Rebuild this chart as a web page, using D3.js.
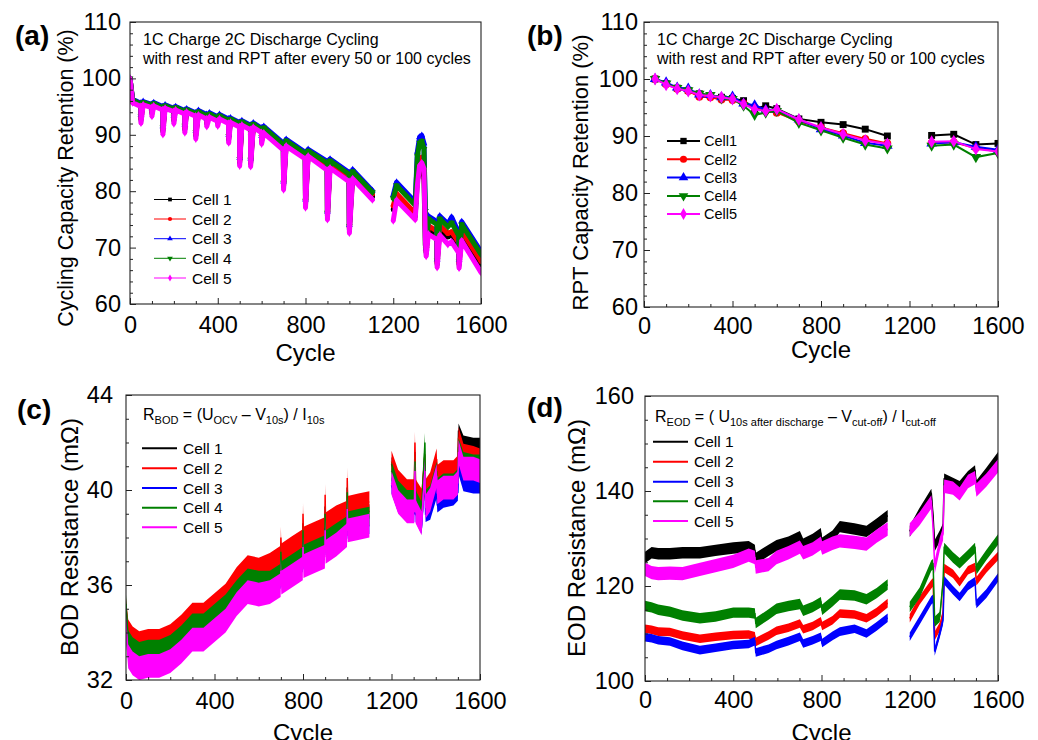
<!DOCTYPE html>
<html><head><meta charset="utf-8">
<script src="https://cdn.jsdelivr.net/npm/d3@7"></script>
<style>
body{margin:0;background:#fff;}
svg{display:block;font-family:"Liberation Sans",Arial,Helvetica,sans-serif;}
</style></head><body>
<svg id="chart" width="1038" height="740"></svg>
<script>
// ---------------- DATA ----------------
const cellNames = ["Cell 1", "Cell 2", "Cell 3", "Cell 4", "Cell 5"];
const cellNamesB = ["Cell1", "Cell2", "Cell3", "Cell4", "Cell5"];
const cellColors = ["#000000", "#ff0000", "#0000ff", "#008000", "#ff00ff"];
const xTickLabels = [0, 400, 800, 1200, 1600];

// (a) cycling capacity retention (%), knots (null = no data)
const capCycles = [0, 12,
  49, 50, 60, 99, 100, 108, 149, 150, 160, 199, 200, 208, 249, 250, 258, 299, 300, 312,
  349, 350, 362, 399, 400, 408, 449, 450, 458, 499, 500, 510, 549, 550, 562, 599, 600, 610,
  699, 700, 712, 799, 800, 812, 899, 900, 912, 999, 1000, 1015, 1105,
  1150,
  1200, 1215, 1300, 1310, 1320, 1330, 1340, 1346, 1350, 1360,
  1399, 1400, 1412, 1449, 1466, 1499, 1500, 1512, 1600];
const capCell1 = [100.0, 95.95,
  95.25, 92.7, 95.55, 95.05, 93.9, 95.35, 94.65, 90.7, 94.95, 94.35, 92.6, 94.65, 93.95, 91.0, 94.25, 93.55, 89.9, 93.8,
  93.1, 92.1, 93.4, 92.7, 92.2, 93.1, 92.3, 89.2, 92.5, 91.7, 85.1, 92.0, 91.2, 85.0, 91.6, 90.7, 89.0, 90.7,
  87.7, 80.9, 88.4, 86.1, 77.7, 86.6, 84.3, 75.6, 84.7, 82.3, 73.2, 82.8, 79.1,
  null,
  76.8, 79.1, 75.6, 82.0, 83.5, 84.0, 82.5, 70.5, 69.1, 73.3,
  72.3, 67.1, 73.3, 71.9, 72.3, 70.3, 67.0, 72.3, 67.0];
const capCell2 = [100.0, 96.0,
  95.3, 93.1, 95.6, 95.1, 94.3, 95.4, 94.7, 91.1, 95.0, 94.4, 93.0, 94.7, 94.0, 91.4, 94.3, 93.6, 90.3, 93.9,
  93.2, 92.5, 93.5, 92.8, 92.6, 93.2, 92.4, 89.6, 92.6, 91.8, 85.5, 92.1, 91.3, 85.4, 91.7, 90.8, 89.4, 91.0,
  88.0, 81.3, 88.7, 86.4, 78.1, 86.9, 84.7, 76.0, 85.1, 82.7, 73.6, 83.2, 79.5,
  null,
  77.4, 79.6, 76.1, 83.5, 85.5, 86.0, 85.0, 74.0, 69.5, 73.9,
  72.9, 67.5, 73.9, 72.5, 72.8, 70.9, 67.4, 72.9, 67.6];
const capCell3 = [100.0, 96.3,
  95.6, 93.5, 95.9, 95.4, 94.7, 95.7, 95.0, 91.5, 95.3, 94.7, 93.4, 95.0, 94.3, 91.8, 94.6, 93.9, 90.7, 94.3,
  93.6, 92.9, 93.9, 93.2, 92.9, 93.6, 92.8, 90.0, 93.0, 92.2, 85.9, 92.5, 91.7, 85.8, 92.1, 91.2, 89.8, 91.5,
  88.5, 81.7, 89.2, 86.9, 78.5, 87.4, 85.3, 76.4, 85.7, 83.3, 74.0, 83.8, 80.1,
  null,
  79.3, 81.6, 78.1, 87.0, 89.6, 89.9, 88.5, 77.0, 69.9, 75.6,
  74.6, 67.9, 75.6, 74.2, 75.4, 72.6, 67.8, 74.6, 69.3];
const capCell4 = [100.0, 96.15,
  95.45, 93.3, 95.75, 95.25, 94.5, 95.55, 94.85, 91.3, 95.15, 94.55, 93.2, 94.85, 94.15, 91.6, 94.45, 93.75, 90.5, 94.1,
  93.4, 92.7, 93.7, 93.0, 92.8, 93.4, 92.6, 89.8, 92.8, 92.0, 85.7, 92.3, 91.5, 85.6, 91.9, 91.0, 89.6, 91.25,
  88.25, 81.5, 88.95, 86.65, 78.3, 87.15, 85.0, 76.2, 85.4, 83.0, 73.8, 83.5, 79.8,
  null,
  78.7, 81.0, 77.5, 86.2, 88.6, 88.9, 87.5, 76.5, 69.7, 75.1,
  74.1, 67.7, 75.1, 73.7, 74.4, 72.1, 67.6, 74.1, 68.8];
const capCell5 = [100.0, 95.7,
  95.0, 92.1, 95.3, 94.8, 93.3, 95.1, 94.4, 90.1, 94.7, 94.1, 92.0, 94.4, 93.7, 90.4, 94.0, 93.3, 89.3, 93.5,
  92.8, 91.5, 93.1, 92.4, 91.6, 92.8, 92.0, 88.6, 92.2, 91.4, 84.5, 91.7, 90.9, 84.4, 91.3, 90.4, 88.4, 90.3,
  87.3, 80.3, 88.0, 85.7, 77.1, 86.2, 83.7, 75.0, 84.1, 81.7, 72.6, 82.2, 78.5,
  null,
  74.8, 78.4, 75.0, 81.0, 84.5, 85.0, 84.0, 72.0, 68.5, 72.4,
  71.4, 66.5, 72.2, 70.6, 71.0, 69.0, 66.4, 71.2, 65.6];

// (b) RPT capacity retention (%)
const rptCycles = [50, 100, 150, 200, 250, 300, 350, 400, 450, 500, 550, 600, 700, 800, 900, 1000, 1100, 1200, 1300, 1400, 1500, 1600];
const rptCell1 = [100, 99.2, 98.4, 98.0, 97.4, 97.1, 96.8, 96.6, 96.2, 94.8, 95.3, 94.8, 93.0, 92.4, 92.0, 91.2, 90.0, null, 90.1, 90.3, 88.5, 88.7];
const rptCell2 = [100, 99.1, 98.3, 97.9, 96.9, 96.8, 96.4, 96.3, 95.7, 95.0, 94.4, 94.1, 92.6, 91.5, 90.5, 89.5, 88.7, null, 88.8, 88.9, 87.9, 87.3];
const rptCell3 = [100, 99.4, 98.5, 98.3, 97.3, 97.2, 96.8, 96.9, 95.7, 95.4, 94.6, 94.6, 92.9, 91.2, 90.1, 88.8, 88.3, null, 88.7, 88.9, 88.1, 87.6];
const rptCell4 = [100, 99.2, 98.4, 98.0, 97.4, 97.2, 96.6, 96.5, 95.3, 93.7, 94.1, 94.4, 92.3, 91.0, 89.7, 88.5, 87.8, null, 88.3, 88.5, 86.3, 87.0];
const rptCell5 = [100, 99.0, 98.3, 97.9, 97.2, 97.0, 96.8, 96.5, 95.6, 94.7, 94.4, 94.7, 92.9, 91.5, 90.3, 89.2, 88.6, null, 89.0, 89.1, 87.7, 87.3];

// (c) BOD resistance (mOhm): band centre per knot and band half-width (noise) per cell
const bodCycles = [0, 10, 30, 60, 100, 150, 200, 250, 300, 350, 400, 450, 500, 550, 600, 650,
  699, 700, 702, 750, 799, 800, 802, 850, 899, 900, 902, 950, 999, 1000, 1002, 1050, 1100,
  1150,
  1200, 1230, 1270, 1303, 1306, 1309, 1336, 1351, 1354, 1375, 1404, 1407, 1435, 1480, 1500, 1503, 1525, 1570, 1600];
const bodCell1 = [34.8, 33.7, 33.4, 33.2, 33.3, 33.3, 33.5, 33.9, 34.4, 34.4, 34.8, 35.2, 35.9, 36.4, 36.3, 36.5,
  36.8, 37.7, 36.9, 37.2, 37.5, 38.6, 37.6, 37.8, 38.0, 39.3, 38.2, 38.5, 38.7, 40.1, 38.9, 39.0, 39.1,
  null,
  41.1, 40.3, 39.9, 39.9, 41.6, 39.9, 39.4, 41.2, 39.8, 40.1, 41.1, 40.4, 40.6, 40.6, 40.9, 42.5, 42.0, 41.9, 41.9];
const bodCell2 = [35.0, 34.1, 33.8, 33.6, 33.7, 33.7, 33.9, 34.3, 34.8, 34.8, 35.2, 35.6, 36.3, 36.8, 36.7, 36.9,
  37.2, 38.0, 37.3, 37.6, 37.9, 39.0, 38.0, 38.2, 38.4, 39.8, 38.6, 38.9, 39.1, 40.5, 39.3, 39.4, 39.5,
  null,
  41.2, 40.4, 40.0, 40.0, 42.0, 40.0, 39.6, 41.5, 40.0, 40.3, 41.3, 40.6, 40.8, 40.8, 41.0, 42.2, 41.5, 41.4, 41.3];
const bodCell3 = [34.3, 33.1, 32.8, 32.6, 32.7, 32.7, 32.9, 33.3, 33.8, 33.8, 34.2, 34.6, 35.3, 35.8, 35.7, 35.9,
  36.2, 36.9, 36.3, 36.6, 36.9, 37.6, 37.0, 37.2, 37.4, 38.4, 37.6, 37.9, 38.1, 39.2, 38.3, 38.4, 38.5,
  null,
  40.2, 39.4, 39.0, 39.0, 40.6, 39.0, 38.5, 40.5, 39.0, 39.1, 40.0, 39.4, 39.6, 39.7, 39.9, 41.0, 40.3, 40.2, 40.2];
const bodCell4 = [35.2, 33.7, 33.4, 33.2, 33.3, 33.3, 33.5, 33.9, 34.4, 34.4, 34.8, 35.2, 35.8, 36.3, 36.2, 36.2,
  36.5, 37.4, 36.6, 36.9, 37.2, 38.3, 37.3, 37.5, 37.7, 39.0, 37.9, 38.2, 38.5, 39.9, 38.7, 38.8, 38.9,
  null,
  40.8, 40.0, 39.6, 39.6, 41.2, 39.6, 39.1, 42.0, 39.6, 39.8, 40.8, 40.1, 40.3, 40.3, 40.5, 41.8, 41.2, 41.1, 41.1];
const bodCell5 = [34.2, 33.0, 32.7, 32.5, 32.6, 32.6, 32.8, 33.2, 33.7, 33.7, 34.1, 34.5, 35.2, 35.7, 35.6, 35.7,
  36.0, 36.6, 36.1, 36.4, 36.7, 37.6, 36.8, 37.0, 37.2, 38.3, 37.4, 37.7, 38.1, 39.2, 38.3, 38.4, 38.5,
  null,
  40.3, 39.5, 39.1, 39.1, 40.8, 39.1, 38.6, 40.8, 39.3, 39.6, 40.6, 39.9, 40.1, 40.1, 40.3, 41.6, 40.9, 40.9, 40.8];
const bodNoise = [0.3, 0.45, 0.35, 0.4, 0.5];

// (d) EOD resistance (mOhm)
const eodCycles = [0, 30, 60, 113, 170, 249, 320, 400, 470, 498, 502, 560, 596, 650, 702, 717, 760, 797, 803,
  850, 883, 950, 1004, 1050, 1100,
  1150,
  1200, 1245, 1298, 1306, 1313, 1336, 1351, 1356, 1396, 1426, 1464, 1496, 1502, 1547, 1600];
const eodCell1 = [126.0, 127.0, 126.8, 126.8, 127.0, 127.0, 127.5, 128.0, 128.3, 127.5, 125.8, 127.5, 128.5, 129.2, 130.4, 128.8, 129.8, 131.0, 129.0,
  130.5, 132.5, 132.0, 131.5, 133.0, 134.8,
  null,
  131.5, 135.3, 139.3, 134.5, 128.5, 130.5, 132.0, 142.5, 141.6, 140.9, 143.0, 144.2, 141.0, 143.7, 147.0];
const eodCell2 = [111.0, 110.8, 110.4, 110.3, 109.6, 108.9, 109.3, 109.7, 109.8, 109.4, 108.2, 109.6, 110.6, 111.2, 112.1, 110.9, 111.6, 112.6, 111.6,
  112.8, 114.2, 114.0, 113.2, 114.5, 116.4,
  null,
  113.2, 117.0, 120.4, 120.8, 109.5, 111.4, 114.2, 123.8, 122.6, 120.8, 123.3, 124.0, 121.0, 123.7, 126.3];
const eodCell3 = [109.2, 109.0, 108.6, 108.3, 107.4, 106.5, 107.0, 107.6, 107.8, 108.4, 106.0, 106.8, 107.6, 108.4, 109.3, 107.9, 108.6, 109.3, 108.0,
  109.5, 110.4, 111.0, 110.0, 111.5, 113.3,
  null,
  109.3, 112.8, 117.0, 117.3, 106.2, 110.0, 112.8, 121.2, 119.1, 117.7, 120.0, 121.0, 116.2, 118.4, 121.8];
const eodCell4 = [115.8, 115.5, 115.0, 114.6, 113.8, 113.2, 113.6, 114.4, 114.4, 114.2, 112.2, 114.0, 115.2, 115.8, 116.2, 114.8, 115.6, 116.6, 115.0,
  116.8, 118.2, 118.0, 117.2, 118.5, 120.3,
  null,
  115.6, 118.6, 124.3, 124.6, 112.5, 113.5, 121.0, 128.0, 126.0, 124.8, 126.5, 128.0, 123.5, 126.5, 129.8];
const eodCell5 = [123.5, 122.8, 122.6, 122.7, 122.6, 123.5, 124.3, 125.2, 126.5, 126.0, 124.0, 124.5, 126.0, 127.0, 128.2, 127.0, 127.8, 129.0, 128.0,
  129.0, 129.5, 129.2, 128.8, 130.5, 132.0,
  null,
  131.8, 134.2, 137.7, 132.0, 124.0, 128.8, 131.0, 141.0, 140.6, 139.4, 142.0, 142.8, 140.2, 142.3, 145.3];
const eodNoise = [1.2, 0.9, 0.9, 1.1, 1.4];

// ---------------- DRAWING ----------------
const svg = d3.select("#chart");
const FONT = '"Liberation Sans", Arial, Helvetica, sans-serif';

function makePanel(cfg) {
  const x = d3.scaleLinear().domain([0, 1600]).range([cfg.l, cfg.r]);
  const y = d3.scaleLinear().domain(cfg.yd).range([cfg.b, cfg.t]);
  const g = svg.append("g");
  const clipId = "clip-" + cfg.name;
  svg.append("defs").append("clipPath").attr("id", clipId)
    .append("rect").attr("x", cfg.l).attr("y", cfg.t).attr("width", cfg.r - cfg.l).attr("height", cfg.b - cfg.t);
  const plot = g.append("g").attr("clip-path", `url(#${clipId})`);

  const xMinor = d3.range(0, 1601, cfg.xMinor).filter(v => v % 400 !== 0);
  const yMinor = d3.range(cfg.yd[0], cfg.yd[1] + 1e-9, cfg.yMinor).filter(v => !cfg.yMajor.includes(v));
  const axG = g.append("g").attr("class", "axes");
  axG.append("g").attr("transform", `translate(0,${cfg.b})`)
    .call(d3.axisBottom(x).tickValues(xMinor).tickSize(-3).tickFormat(""))
    .call(s => s.select(".domain").remove());
  axG.append("g").attr("transform", `translate(${cfg.l},0)`)
    .call(d3.axisLeft(y).tickValues(yMinor).tickSize(-3).tickFormat(""))
    .call(s => s.select(".domain").remove());
  axG.append("g").attr("transform", `translate(0,${cfg.b})`)
    .call(d3.axisBottom(x).tickValues(xTickLabels).tickSize(-6).tickPadding(cfg.xPad).tickFormat(d3.format("d")))
    .call(s => s.select(".domain").remove())
    .call(s => s.selectAll("text").attr("font-size", 23.5).attr("font-family", FONT).attr("fill", "#000"));
  axG.append("g").attr("transform", `translate(${cfg.l},0)`)
    .call(d3.axisLeft(y).tickValues(cfg.yMajor).tickSize(-6).tickPadding(cfg.yPad).tickFormat(d3.format("d")))
    .call(s => s.select(".domain").remove())
    .call(s => s.selectAll("text").attr("font-size", 23.5).attr("font-family", FONT).attr("fill", "#000"));
  axG.selectAll(".tick line").attr("stroke", "#222").attr("stroke-width", 1);
  g.append("rect").attr("x", cfg.l).attr("y", cfg.t).attr("width", cfg.r - cfg.l).attr("height", cfg.b - cfg.t)
    .attr("fill", "none").attr("stroke", "#222").attr("stroke-width", 1.1);

  g.append("text").attr("x", (cfg.l + cfg.r) / 2).attr("y", cfg.xTitleY).attr("text-anchor", "middle")
    .attr("font-size", 24).text("Cycle");
  g.append("text").attr("transform", `translate(${cfg.yTitleX},${cfg.yTitleCY}) rotate(-90)`)
    .attr("text-anchor", "middle").attr("font-size", cfg.yTitleSize).text(cfg.yTitle);
  g.append("text").attr("x", cfg.labelX).attr("y", cfg.labelY).attr("font-size", 28).attr("font-weight", "bold")
    .text(cfg.label);
  return {g, x, y, plot};
}

function symbolFor(i, size) {
  const types = [d3.symbolSquare, d3.symbolCircle, d3.symbolTriangle, d3.symbolTriangle, d3.symbolDiamond];
  return d3.symbol().type(types[i]).size(size)();
}
function drawMarker(g, i, cx, cy, size) {
  g.append("path").attr("d", symbolFor(i, size))
    .attr("transform", `translate(${cx},${cy})` + (i === 3 ? " rotate(180)" : ""))
    .attr("fill", cellColors[i]).attr("stroke", "none");
}
function zip(cycles, vals) { return cycles.map((c, k) => ({c, v: vals[k]})); }

// ---------- Panel (a) ----------
const A = makePanel({name: "a", l: 130, r: 481, t: 22, b: 304, yd: [60, 110], yMajor: [60, 70, 80, 90, 100, 110],
  yMinor: 2, xMinor: 100, xPad: 12.5, yPad: 9, xTitleY: 361, yTitleX: 73, yTitleCY: 178, yTitleSize: 21.5,
  yTitle: "Cycling Capacity Retention (%)", label: "(a)", labelX: 15, labelY: 45});
const capSeries = [capCell1, capCell2, capCell3, capCell4, capCell5];
const lineA = d3.line().defined(d => d.v != null).x(d => A.x(d.c)).y(d => A.y(d.v));
capSeries.forEach((vals, i) => {
  const data = zip(capCycles, vals);
  A.plot.append("path").datum(data).attr("d", lineA).attr("fill", "none")
    .attr("stroke", cellColors[i]).attr("stroke-width", 5).attr("stroke-linejoin", "round").attr("stroke-linecap", "round");
  data.filter(d => d.v != null).forEach(d => drawMarker(A.plot, i, A.x(d.c), A.y(d.v), 20));
});
A.g.append("text").attr("x", 143).attr("y", 45).attr("font-size", 16).text("1C Charge 2C Discharge Cycling");
A.g.append("text").attr("x", 143).attr("y", 64).attr("font-size", 16).text("with rest and RPT after every 50 or 100 cycles");
const legA = [199.5, 219, 238.7, 258.3, 278];
cellNames.forEach((n, i) => {
  A.g.append("line").attr("x1", 154).attr("x2", 186).attr("y1", legA[i]).attr("y2", legA[i])
    .attr("stroke", cellColors[i]).attr("stroke-width", 1);
  drawMarker(A.g, i, 170, legA[i], 14);
  A.g.append("text").attr("x", 192).attr("y", legA[i]).attr("dy", "0.36em").attr("font-size", 15.5).text(n);
});

// ---------- Panel (b) ----------
const B = makePanel({name: "b", l: 644, r: 998, t: 22, b: 307, yd: [60, 110], yMajor: [60, 70, 80, 90, 100, 110],
  yMinor: 2, xMinor: 100, xPad: 10.5, yPad: 6, xTitleY: 358, yTitleX: 588, yTitleCY: 172.5, yTitleSize: 22,
  yTitle: "RPT Capacity Retention (%)", label: "(b)", labelX: 527, labelY: 45});
const rptSeries = [rptCell1, rptCell2, rptCell3, rptCell4, rptCell5];
const lineB = d3.line().defined(d => d.v != null).x(d => B.x(d.c)).y(d => B.y(d.v));
rptSeries.forEach((vals, i) => {
  const data = zip(rptCycles, vals);
  B.plot.append("path").datum(data).attr("d", lineB).attr("fill", "none")
    .attr("stroke", cellColors[i]).attr("stroke-width", 2);
  data.filter(d => d.v != null).forEach(d => drawMarker(B.plot, i, B.x(d.c), B.y(d.v), 48));
});
B.g.append("text").attr("x", 657).attr("y", 45).attr("font-size", 16).text("1C Charge 2C Discharge Cycling");
B.g.append("text").attr("x", 657).attr("y", 64).attr("font-size", 16).text("with rest and RPT after every 50 or 100 cycles");
const legB = [141, 159.3, 177.5, 196, 214];
cellNamesB.forEach((n, i) => {
  B.g.append("line").attr("x1", 667).attr("x2", 700).attr("y1", legB[i]).attr("y2", legB[i])
    .attr("stroke", cellColors[i]).attr("stroke-width", 2);
  drawMarker(B.g, i, 683.5, legB[i], 40);
  B.g.append("text").attr("x", 704).attr("y", legB[i]).attr("dy", "0.36em").attr("font-size", 14.5).text(n);
});

// ---------- Panel (c) ----------
const C = makePanel({name: "c", l: 126, r: 480, t: 395, b: 680, yd: [32, 44], yMajor: [32, 36, 40, 44],
  yMinor: 1, xMinor: 100, xPad: 12.3, yPad: 13, xTitleY: 741, yTitleX: 78, yTitleCY: 537, yTitleSize: 24,
  yTitle: "BOD Resistance (mΩ)", label: "(c)", labelX: 17, labelY: 419});
const bodSeries = [bodCell1, bodCell2, bodCell3, bodCell4, bodCell5];
bodSeries.forEach((vals, i) => {
  const data = zip(bodCycles, vals);
  const hw = bodNoise[i];
  const area = d3.area().defined(d => d.v != null).x(d => C.x(d.c))
    .y0(d => C.y(d.v - hw)).y1(d => C.y(d.v + hw));
  const line = d3.line().defined(d => d.v != null).x(d => C.x(d.c)).y(d => C.y(d.v));
  C.plot.append("path").datum(data).attr("d", area).attr("fill", cellColors[i]);
  C.plot.append("path").datum(data).attr("d", line).attr("fill", "none").attr("stroke", cellColors[i]).attr("stroke-width", 1.5);
});
const fc = C.g.append("text").attr("x", 143).attr("y", 420).attr("font-size", 16);
fc.append("tspan").text("R");
fc.append("tspan").attr("dy", 4).attr("font-size", 11).text("BOD");
fc.append("tspan").attr("dy", -4).text(" = (U");
fc.append("tspan").attr("dy", 4).attr("font-size", 11).text("OCV");
fc.append("tspan").attr("dy", -4).text(" – V");
fc.append("tspan").attr("dy", 4).attr("font-size", 11).text("10s");
fc.append("tspan").attr("dy", -4).text(") / I");
fc.append("tspan").attr("dy", 4).attr("font-size", 11).text("10s");
const legC = [448.3, 468.3, 488, 507.7, 527.3];
cellNames.forEach((n, i) => {
  C.g.append("line").attr("x1", 142).attr("x2", 177).attr("y1", legC[i]).attr("y2", legC[i])
    .attr("stroke", cellColors[i]).attr("stroke-width", 2);
  C.g.append("text").attr("x", 183).attr("y", legC[i]).attr("dy", "0.36em").attr("font-size", 15.5).text(n);
});

// ---------- Panel (d) ----------
const D = makePanel({name: "d", l: 645, r: 998, t: 396, b: 681, yd: [100, 160], yMajor: [100, 120, 140, 160],
  yMinor: 5, xMinor: 100, xPad: 10.3, yPad: 11, xTitleY: 741, yTitleX: 585, yTitleCY: 538, yTitleSize: 24,
  yTitle: "EOD Resistance (mΩ)", label: "(d)", labelX: 527, labelY: 417});
const eodSeries = [eodCell1, eodCell2, eodCell3, eodCell4, eodCell5];
eodSeries.forEach((vals, i) => {
  const data = zip(eodCycles, vals);
  const hw = eodNoise[i];
  const area = d3.area().defined(d => d.v != null).x(d => D.x(d.c))
    .y0(d => D.y(d.v - hw)).y1(d => D.y(d.v + hw));
  const line = d3.line().defined(d => d.v != null).x(d => D.x(d.c)).y(d => D.y(d.v));
  D.plot.append("path").datum(data).attr("d", area).attr("fill", cellColors[i]);
  D.plot.append("path").datum(data).attr("d", line).attr("fill", "none").attr("stroke", cellColors[i]).attr("stroke-width", 1.5);
});
const fd = D.g.append("text").attr("x", 655).attr("y", 422).attr("font-size", 16);
fd.append("tspan").text("R");
fd.append("tspan").attr("dy", 4).attr("font-size", 11).text("EOD");
fd.append("tspan").attr("dy", -4).text(" = ( U");
fd.append("tspan").attr("dy", 4).attr("font-size", 11).text("10s after discharge");
fd.append("tspan").attr("dy", -4).text(" – V");
fd.append("tspan").attr("dy", 4).attr("font-size", 11).text("cut-off");
fd.append("tspan").attr("dy", -4).text(") / I");
fd.append("tspan").attr("dy", 4).attr("font-size", 11).text("cut-off");
const legD = [441.7, 461.7, 481.7, 501.3, 521];
cellNames.forEach((n, i) => {
  D.g.append("line").attr("x1", 653).attr("x2", 688).attr("y1", legD[i]).attr("y2", legD[i])
    .attr("stroke", cellColors[i]).attr("stroke-width", 2);
  D.g.append("text").attr("x", 694).attr("y", legD[i]).attr("dy", "0.36em").attr("font-size", 15.5).text(n);
});
</script>
</body></html>
